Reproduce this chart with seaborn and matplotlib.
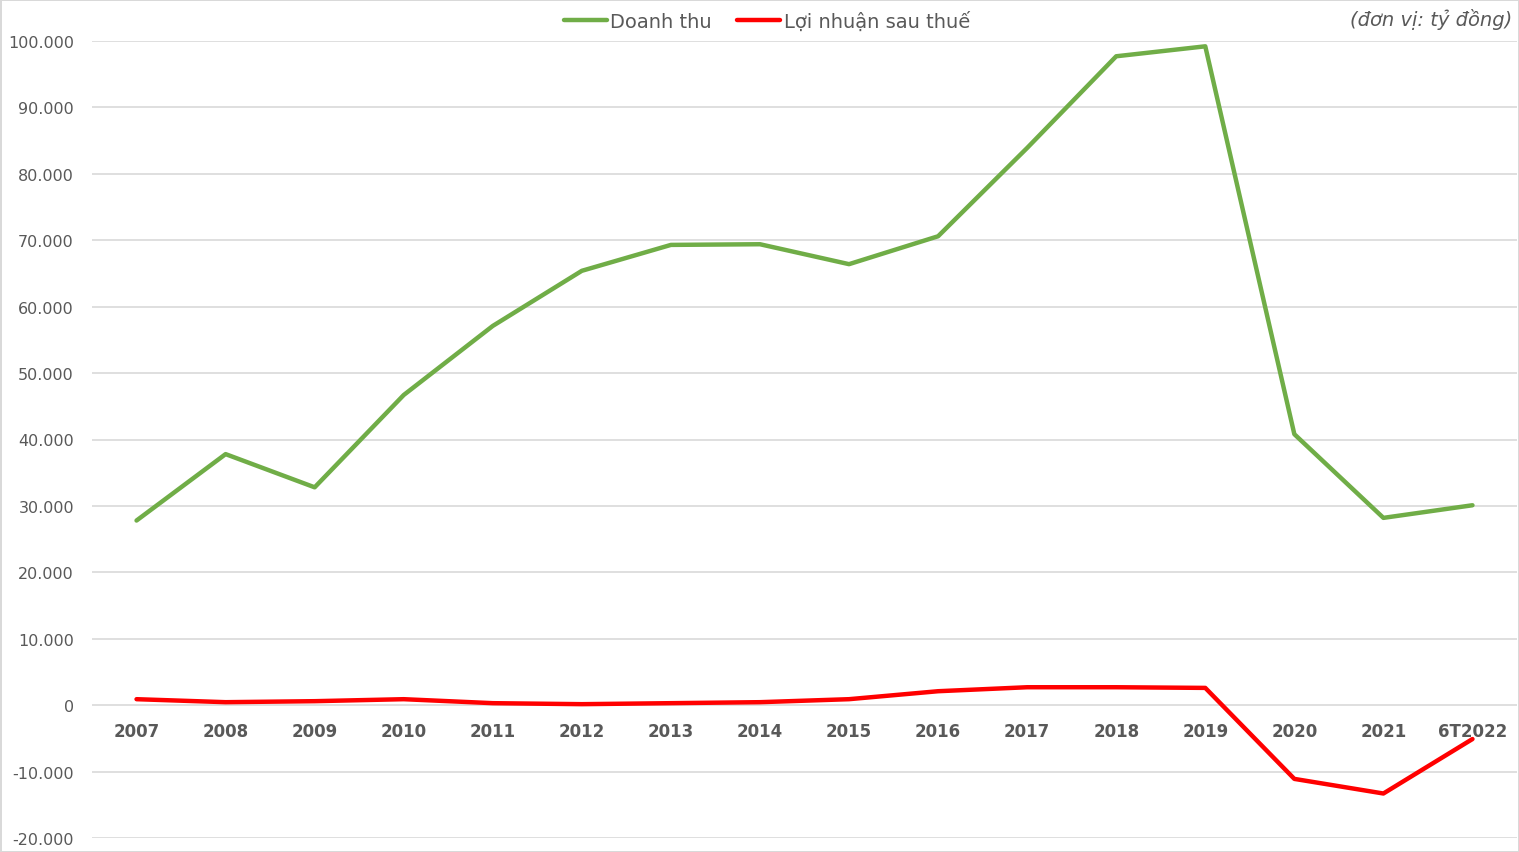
import matplotlib
matplotlib.use("Agg")
import matplotlib.pyplot as plt
import seaborn as sns
import pandas as pd

years = ["2007", "2008", "2009", "2010", "2011", "2012", "2013", "2014",
         "2015", "2016", "2017", "2018", "2019", "2020", "2021", "6T2022"]
doanh_thu = [27800, 37800, 32800, 46700, 57100, 65400, 69300, 69400,
             66400, 70600, 83900, 97700, 99200, 40800, 28200, 30100]
loi_nhuan = [900, 450, 600, 900, 300, 150, 300, 450,
             900, 2100, 2700, 2700, 2600, -11100, -13300, -5100]
series_names = ["Doanh thu", "Lợi nhuận sau thuế"]
series_colors = ["#70ad47", "#ff0000"]
ytick_values = [-20000, -10000, 0, 10000, 20000, 30000, 40000, 50000,
                60000, 70000, 80000, 90000, 100000]
ytick_labels = ["-20.000", "-10.000", "0", "10.000", "20.000", "30.000", "40.000",
                "50.000", "60.000", "70.000", "80.000", "90.000", "100.000"]
unit_text = "(đơn vị: tỷ đồng)"

df = pd.DataFrame({
    "year": years * 2,
    "value": doanh_thu + loi_nhuan,
    "series": [series_names[0]] * len(years) + [series_names[1]] * len(years),
})

sns.set_theme(style="white")
plt.rcParams["font.family"] = ["DejaVu Sans"]

fig = plt.figure(figsize=(15.19, 8.53), dpi=100)
fig.patch.set_facecolor("white")
fig.patch.set_edgecolor("#d9d9d9")
fig.patch.set_linewidth(2)
ax = fig.add_axes([92 / 1519, 1 - 839 / 853, (1517 - 92) / 1519, (839 - 42) / 853])

sns.lineplot(data=df, x="year", y="value", hue="series", sort=False,
             palette=series_colors, linewidth=3.2, ax=ax, legend=True)

ax.set_xlim(-0.5, len(years) - 0.5)
ax.set_ylim(-20000, 100000)
ax.set_yticks(ytick_values)
ax.set_yticklabels(ytick_labels)
ax.set_xlabel("")
ax.set_ylabel("")
for s in ax.spines.values():
    s.set_visible(False)
ax.spines["bottom"].set_position(("data", 0))
ax.grid(axis="y", color="#d9d9d9", linewidth=1.2)
ax.grid(axis="x", visible=False)
ax.set_axisbelow(True)
ax.tick_params(axis="y", length=0, pad=13, labelsize=11.5, labelcolor="#595959")
ax.tick_params(axis="x", length=0, pad=12, labelsize=12, labelcolor="#595959")
for lab in ax.get_xticklabels():
    lab.set_fontweight("bold")

handles, labels = ax.get_legend_handles_labels()
ax.get_legend().remove()
leg = fig.legend(handles, labels, loc="center", bbox_to_anchor=(767 / 1519, 1 - 22 / 853),
                 ncol=2, frameon=False, fontsize=14, handlelength=2.2, handletextpad=0.2,
                 columnspacing=1.3, labelcolor="#595959")
for line in leg.get_lines():
    line.set_linewidth(3.2)

fig.text(1512 / 1519, 1 - 20 / 853, unit_text, ha="right", va="center",
         fontsize=14, style="italic", color="#595959")

fig.savefig("out.png", dpi=100, facecolor="white")
